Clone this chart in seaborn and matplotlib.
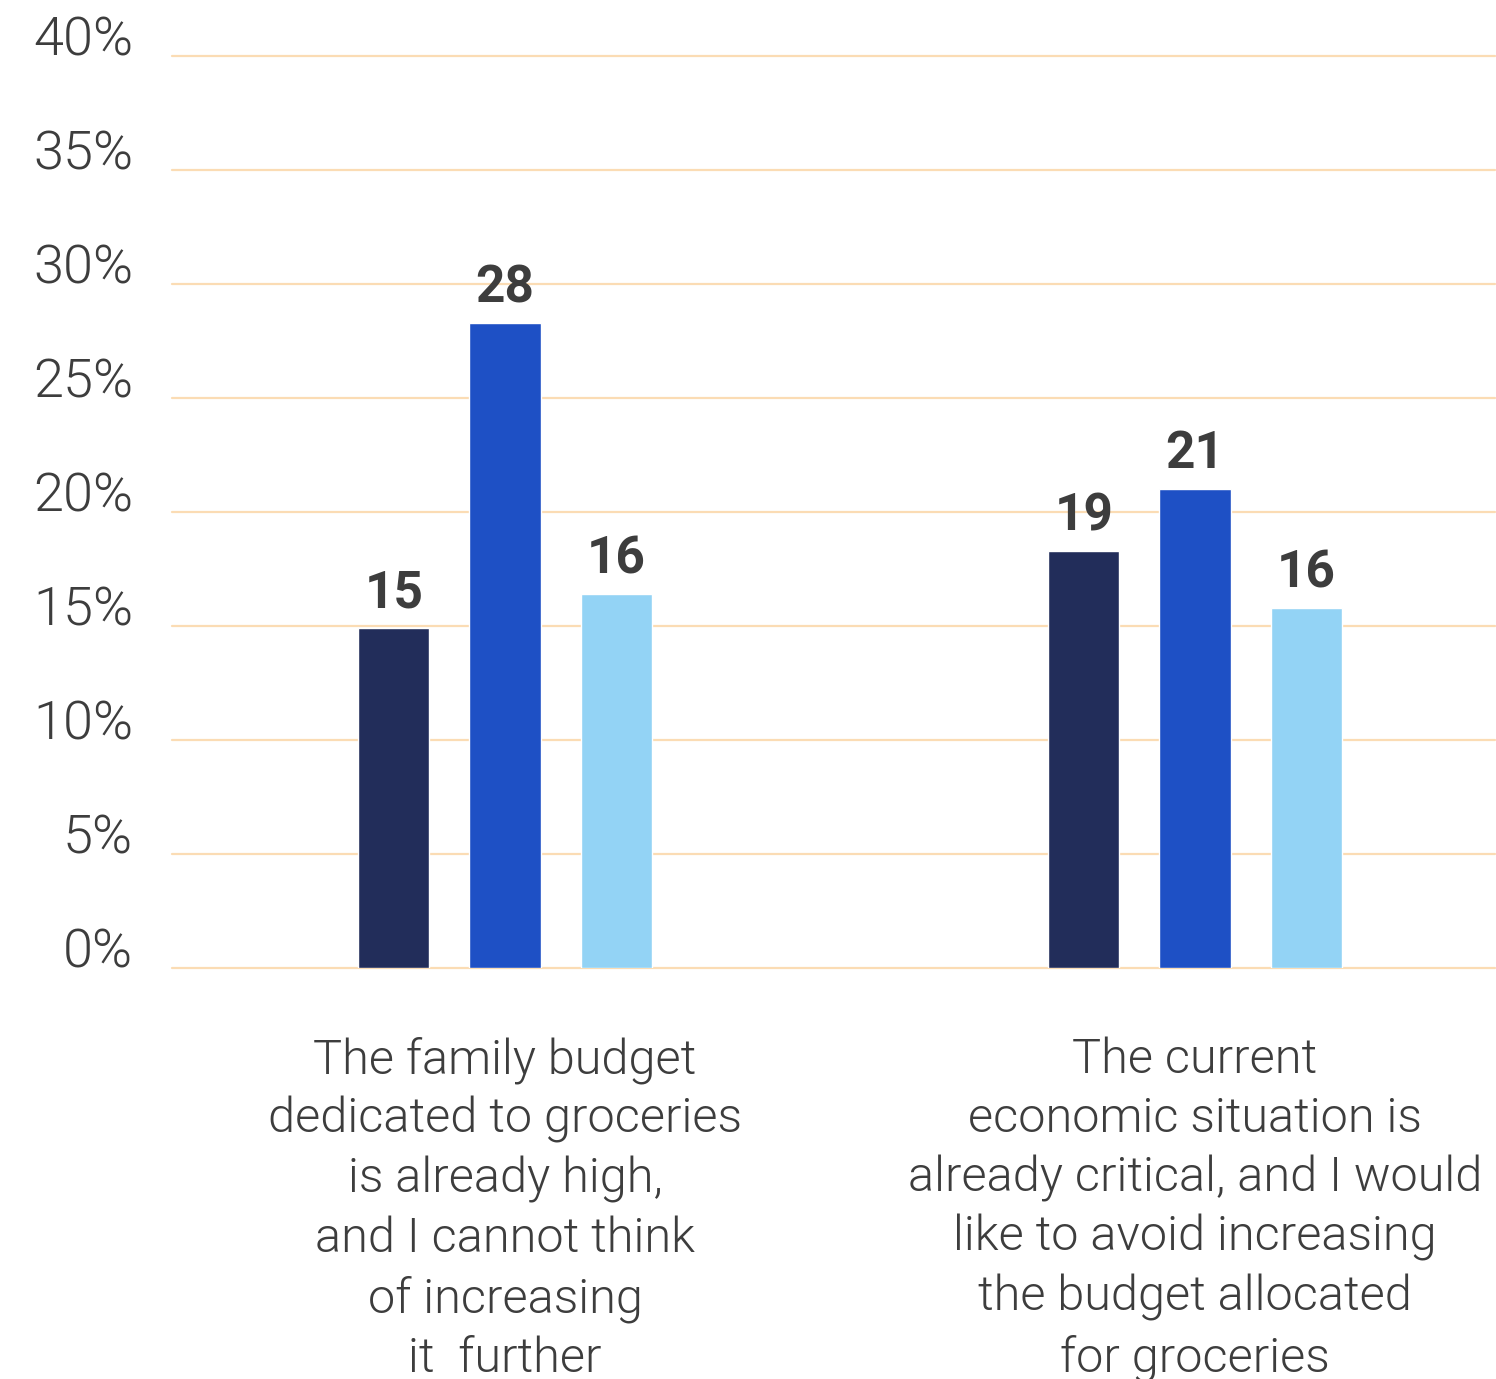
import matplotlib
matplotlib.use("Agg")
import matplotlib.pyplot as plt
import seaborn as sns
import pandas as pd

categories = [
    "The family budget\ndedicated to groceries\nis already high,\nand I cannot think\nof increasing\nit  further",
    "The current\neconomic situation is\nalready critical, and I would\nlike to avoid increasing\nthe budget allocated\nfor groceries",
]
series = ["Series 1", "Series 2", "Series 3"]
values = {
    "Series 1": [14.9, 18.3],
    "Series 2": [28.3, 21.0],
    "Series 3": [16.4, 15.8],
}
labels = {
    "Series 1": ["15", "19"],
    "Series 2": ["28", "21"],
    "Series 3": ["16", "16"],
}
yticks = [0, 5, 10, 15, 20, 25, 30, 35, 40]
colors = ["#222d5a", "#1e50c5", "#93d3f5"]

rows = []
for s in series:
    for c, v in zip(categories, values[s]):
        rows.append({"category": c, "series": s, "value": v})
df = pd.DataFrame(rows)

sns.set_style("white")
plt.rcParams["font.family"] = ["Roboto", "DejaVu Sans"]
text_color = "#3d3d3d"

W, H = 1496, 1379
fig = plt.figure(figsize=(W / 100, H / 100), dpi=100)
ax = fig.add_axes([172 / W, (H - 968) / H, (1495 - 172) / W, (968 - 56) / H])

sns.barplot(data=df, x="category", y="value", hue="series", order=categories,
            hue_order=series, palette=colors, width=0.483, gap=0.36,
            saturation=1, ax=ax, legend=False, errorbar=None, zorder=3)

ax.set_ylim(0, 40)
ax.set_xlim((172 - 505) / 690, (1495 - 505) / 690)
ax.set_yticks(yticks)
ax.set_yticklabels([f"{t}%" for t in yticks])
for sp in ax.spines.values():
    sp.set_visible(False)
ax.grid(axis="y", color="#fbdcb4", linewidth=1.6, zorder=0)
ax.grid(axis="x", visible=False)
for gl in ax.get_ygridlines():
    gl.set_clip_on(False)
ax.set_axisbelow(True)
ax.set_xlabel("")
ax.set_ylabel("")

ax.tick_params(axis="y", length=0, pad=28, labelsize=39, labelcolor=text_color)
for lbl in ax.get_yticklabels():
    lbl.set_verticalalignment("baseline")
    lbl.set_fontweight(300)

ax.tick_params(axis="x", length=0, pad=49, labelsize=35, labelcolor=text_color)
for lbl in ax.get_xticklabels():
    lbl.set_fontweight(300)
    lbl.set_linespacing(1.35)
    lbl.set_horizontalalignment("center")

for container, s in zip(ax.containers, series):
    ax.bar_label(container, labels=labels[s], padding=7, fontsize=37,
                 fontweight="bold", color=text_color)

fig.savefig("out.png", dpi=100, facecolor="white")
